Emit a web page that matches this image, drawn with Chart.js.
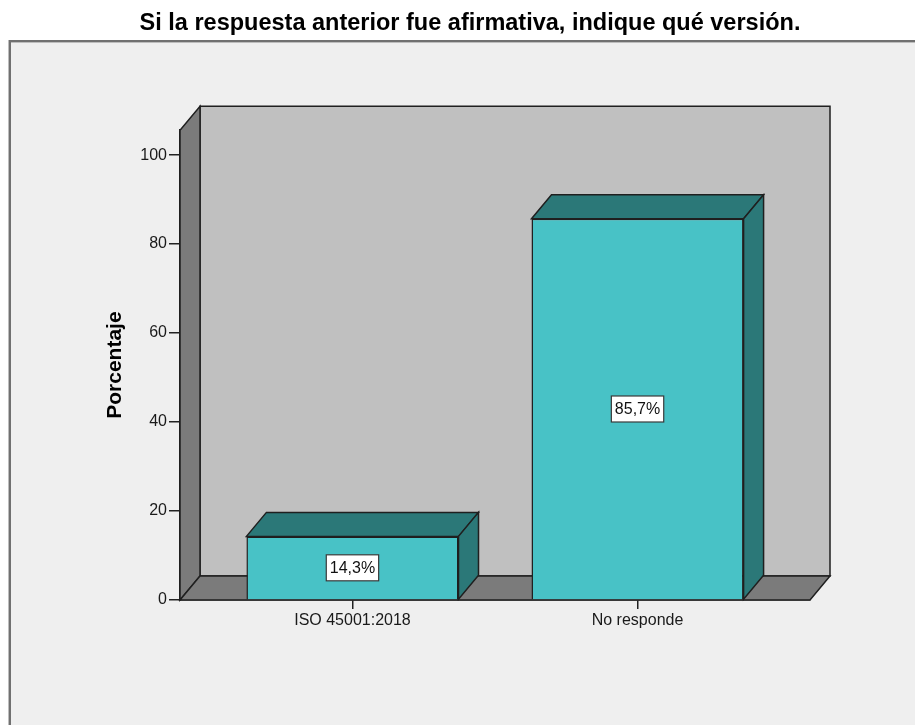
<!DOCTYPE html>
<html>
<head>
<meta charset="utf-8">
<script src="https://cdn.jsdelivr.net/npm/chart.js@4.4.1/dist/chart.umd.min.js"></script>
<style>
  html, body { margin: 0; padding: 0; background: #ffffff; }
  #wrap { width: 915px; height: 725px; }
</style>
</head>
<body>
<div id="wrap"><canvas id="c" width="915" height="725"></canvas></div>
<script>
// ---- data ----
const chartTitle = 'Si la respuesta anterior fue afirmativa, indique qué versión.';
const yAxisTitle = 'Porcentaje';
const categories = ['ISO 45001:2018', 'No responde'];
const percentages = [14.3, 85.7];
const yTicks = [0, 20, 40, 60, 80, 100];

// ---- style ----
const FONT = "Arial, 'Liberation Sans', sans-serif";
const DEPTH_X = 20, DEPTH_Y = -24;
const EDGE = '#1f1f1f';
const FRONT = '#48c2c6';
const SIDE = '#2b7878';
const WALL = '#7b7b7b';
const BACK = '#c0c0c0';

const fmt = v => v.toFixed(1).replace('.', ',') + '%';

const framePlugin = {
  id: 'frame',
  beforeDraw(chart) {
    const ctx = chart.ctx;
    ctx.save();
    ctx.fillStyle = '#ffffff';
    ctx.fillRect(0, 0, chart.width, chart.height);
    ctx.fillStyle = '#efefef';
    ctx.fillRect(10, 42, chart.width, chart.height);
    ctx.fillStyle = '#707070';
    ctx.fillRect(9, 40, chart.width, 2);
    ctx.fillRect(9, 40, 2, chart.height);
    ctx.fillStyle = '#bdbdbd';
    ctx.fillRect(11, 42, chart.width, 1);
    ctx.fillRect(8, 40, 1, chart.height);
    ctx.restore();
  },
  beforeDatasetsDraw(chart) {
    const ctx = chart.ctx;
    const ys = chart.scales.y, xs = chart.scales.x;
    const L = xs.left, R = xs.right;
    const B = ys.getPixelForValue(0), T = ys.top;
    ctx.save();
    ctx.lineWidth = 1.5;
    ctx.strokeStyle = EDGE;
    ctx.lineJoin = 'miter';
    // back wall
    ctx.fillStyle = BACK;
    ctx.beginPath();
    ctx.rect(L + DEPTH_X, T + DEPTH_Y, R - L, B - T);
    ctx.fill(); ctx.stroke();
    // left wall
    ctx.fillStyle = WALL;
    ctx.beginPath();
    ctx.moveTo(L, B); ctx.lineTo(L, T);
    ctx.lineTo(L + DEPTH_X, T + DEPTH_Y); ctx.lineTo(L + DEPTH_X, B + DEPTH_Y);
    ctx.closePath(); ctx.fill(); ctx.stroke();
    // floor
    ctx.beginPath();
    ctx.moveTo(L, B); ctx.lineTo(L + DEPTH_X, B + DEPTH_Y);
    ctx.lineTo(R + DEPTH_X, B + DEPTH_Y); ctx.lineTo(R, B);
    ctx.closePath(); ctx.fill(); ctx.stroke();
    ctx.restore();
  },
  afterDatasetsDraw(chart) {
    const ctx = chart.ctx;
    const meta = chart.getDatasetMeta(0);
    ctx.save();
    ctx.lineWidth = 1.5;
    ctx.strokeStyle = EDGE;
    meta.data.forEach((bar, i) => {
      const p = bar.getProps(['x', 'y', 'base', 'width'], true);
      const l = p.x - p.width / 2, r = p.x + p.width / 2;
      const top = p.y, base = p.base;
      ctx.fillStyle = SIDE;
      // top face
      ctx.beginPath();
      ctx.moveTo(l, top); ctx.lineTo(l + DEPTH_X, top + DEPTH_Y);
      ctx.lineTo(r + DEPTH_X, top + DEPTH_Y); ctx.lineTo(r, top);
      ctx.closePath(); ctx.fill(); ctx.stroke();
      // right face
      ctx.beginPath();
      ctx.moveTo(r, top); ctx.lineTo(r + DEPTH_X, top + DEPTH_Y);
      ctx.lineTo(r + DEPTH_X, base + DEPTH_Y); ctx.lineTo(r, base);
      ctx.closePath(); ctx.fill(); ctx.stroke();
      // value label
      const txt = fmt(percentages[i]);
      ctx.font = '16px ' + FONT;
      const tw = ctx.measureText(txt).width;
      const cy = (top + base) / 2;
      const bw = tw + 7, bh = 26;
      ctx.fillStyle = '#ffffff';
      ctx.fillRect(p.x - bw / 2, cy - bh / 2, bw, bh);
      ctx.lineWidth = 1.2;
      ctx.strokeStyle = '#3a3a3a';
      ctx.strokeRect(p.x - bw / 2, cy - bh / 2, bw, bh);
      ctx.fillStyle = '#111111';
      ctx.textAlign = 'center';
      ctx.textBaseline = 'middle';
      ctx.fillText(txt, p.x, cy + 1);
      ctx.lineWidth = 1.5;
      ctx.strokeStyle = EDGE;
    });
    ctx.restore();
  }
};

new Chart(document.getElementById('c'), {
  type: 'bar',
  data: {
    datasets: [{
      data: percentages.map((v, i) => ({ x: i, y: v })),
      backgroundColor: FRONT,
      borderColor: EDGE,
      borderWidth: 1.5,
      categoryPercentage: 1,
      barPercentage: 0.744
    }]
  },
  options: {
    responsive: false,
    animation: false,
    devicePixelRatio: 1,
    layout: { padding: { left: 25, right: 0, top: 0, bottom: 0 } },
    plugins: {
      legend: { display: false },
      tooltip: { enabled: false },
      title: {
        display: true,
        text: chartTitle,
        color: '#000000',
        font: { family: FONT, size: 23.5, weight: 'bold' },
        padding: { top: 9, bottom: 93 }
      }
    },
    scales: {
      x: {
        type: 'linear',
        offset: false,
        min: -0.605,
        max: 1.605,
        afterBuildTicks: s => { s.ticks = categories.map((c, i) => ({ value: i })); },
        afterFit: s => { s.height = 125; },
        ticks: {
          callback: (v) => categories[Math.round(v)],
          color: '#1a1a1a',
          font: { family: FONT, size: 16 },
          padding: 2,
          maxRotation: 0,
          autoSkip: false
        },
        grid: { offset: false, drawOnChartArea: false, drawTicks: true, tickLength: 9, color: '#222', lineWidth: 1.5 },
        border: { display: true, color: EDGE, width: 1.5 }
      },
      y: {
        min: 0,
        max: 105.6,
        afterBuildTicks: s => { s.ticks = yTicks.map(v => ({ value: v })); },
        afterFit: s => { s.width = 155; },
        ticks: {
          color: '#1a1a1a',
          font: { family: FONT, size: 16 },
          padding: 2
        },
        grid: { drawOnChartArea: false, drawTicks: true, tickLength: 11, color: '#222', lineWidth: 1.5 },
        border: { display: true, color: EDGE, width: 1.5 },
        title: {
          display: true,
          text: yAxisTitle,
          color: '#000000',
          font: { family: FONT, size: 21, weight: 'bold' },
          padding: { top: 78, bottom: 0 }
        }
      },
      r2: {
        type: 'linear',
        position: 'right',
        display: true,
        afterFit: s => { s.width = 105; },
        ticks: { display: false },
        grid: { display: false },
        border: { display: false }
      }
    }
  },
  plugins: [framePlugin]
});
</script>
</body>
</html>
